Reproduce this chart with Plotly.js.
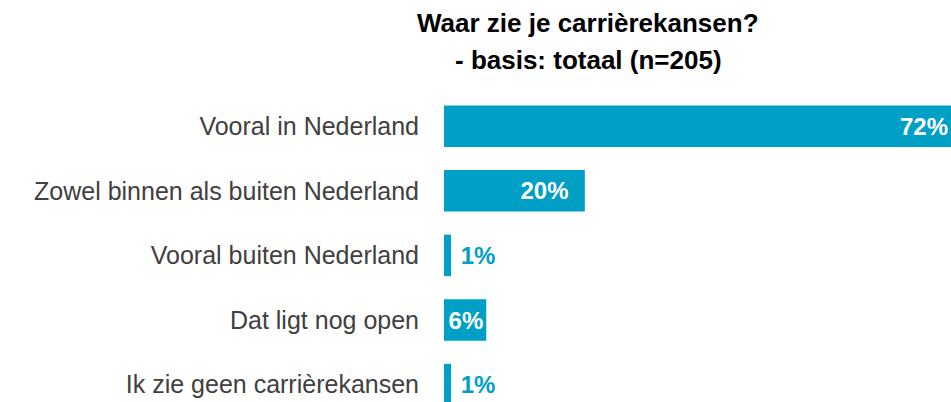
<!DOCTYPE html>
<html>
<head>
<meta charset="utf-8">
<script src="https://cdn.plot.ly/plotly-3.0.1.min.js"></script>
<style>html,body{margin:0;padding:0;background:#fff;}#chart{width:951px;height:402px;}</style>
</head>
<body>
<div id="chart"></div>
<script>
const categories = [
  "Vooral in Nederland",
  "Zowel binnen als buiten Nederland",
  "Vooral buiten Nederland",
  "Dat ligt nog open",
  "Ik zie geen carrièrekansen"
];
const values = [72, 20, 1, 6, 1];
const labels = ["72%", "20%", "1%", "6%", "1%"];
const titleLines = ["Waar zie je carrièrekansen?", "- basis: totaal (n=205)"];

const labelPositions = ["inside", "inside", "outside", "inside", "outside"];
const labelTemplates = ["%{text}", "%{text}\u00a0\u00a0", "\u00a0%{text}", "%{text}", "\u00a0%{text}"];

const barColor = "#009fc6";
const FONT = "Liberation Sans, Arial, sans-serif";

const trace = {
  type: "bar",
  orientation: "h",
  x: values,
  y: categories,
  text: labels,
  texttemplate: labelTemplates,
  textposition: labelPositions,
  insidetextanchor: "end",
  textangle: 0,
  constraintext: "none",
  cliponaxis: true,
  insidetextfont: {family: FONT, size: 24, color: "#ffffff", weight: "bold"},
  outsidetextfont: {family: FONT, size: 24, color: barColor, weight: "bold"},
  marker: {color: barColor, line: {width: 0}},
  hoverinfo: "none"
};

const plotTop = 94, H = 402;
const pyToPaper = p => (H - p) / (H - plotTop);

const layout = {
  width: 951,
  height: H,
  margin: {l: 444, r: 0, t: plotTop, b: 0, pad: 0},
  paper_bgcolor: "#ffffff",
  plot_bgcolor: "#ffffff",
  bargap: 0.357,
  showlegend: false,
  annotations: [
    {text: "<b>" + titleLines[0] + "</b>", xref: "paper", yref: "paper",
     x: (588 - 444) / (951 - 444), y: pyToPaper(23.5), xanchor: "center", yanchor: "middle",
     showarrow: false, font: {family: FONT, size: 26, color: "#000000"}},
    {text: "<b>" + titleLines[1] + "</b>", xref: "paper", yref: "paper",
     x: (588 - 444) / (951 - 444), y: pyToPaper(60), xanchor: "center", yanchor: "middle",
     showarrow: false, font: {family: FONT, size: 26, color: "#000000"}}
  ],
  xaxis: {
    range: [0, 72],
    showgrid: false,
    zeroline: false,
    showline: false,
    showticklabels: false,
    ticks: "",
    fixedrange: true
  },
  yaxis: {
    type: "category",
    categoryorder: "array",
    categoryarray: categories,
    range: [4.27, -0.5],
    showgrid: false,
    zeroline: false,
    showline: false,
    ticks: "",
    ticklabelstandoff: 24,
    tickfont: {family: FONT, size: 25, color: "#404040"},
    fixedrange: true
  }
};

Plotly.newPlot("chart", [trace], layout, {displayModeBar: false, staticPlot: true});
</script>
</body>
</html>
